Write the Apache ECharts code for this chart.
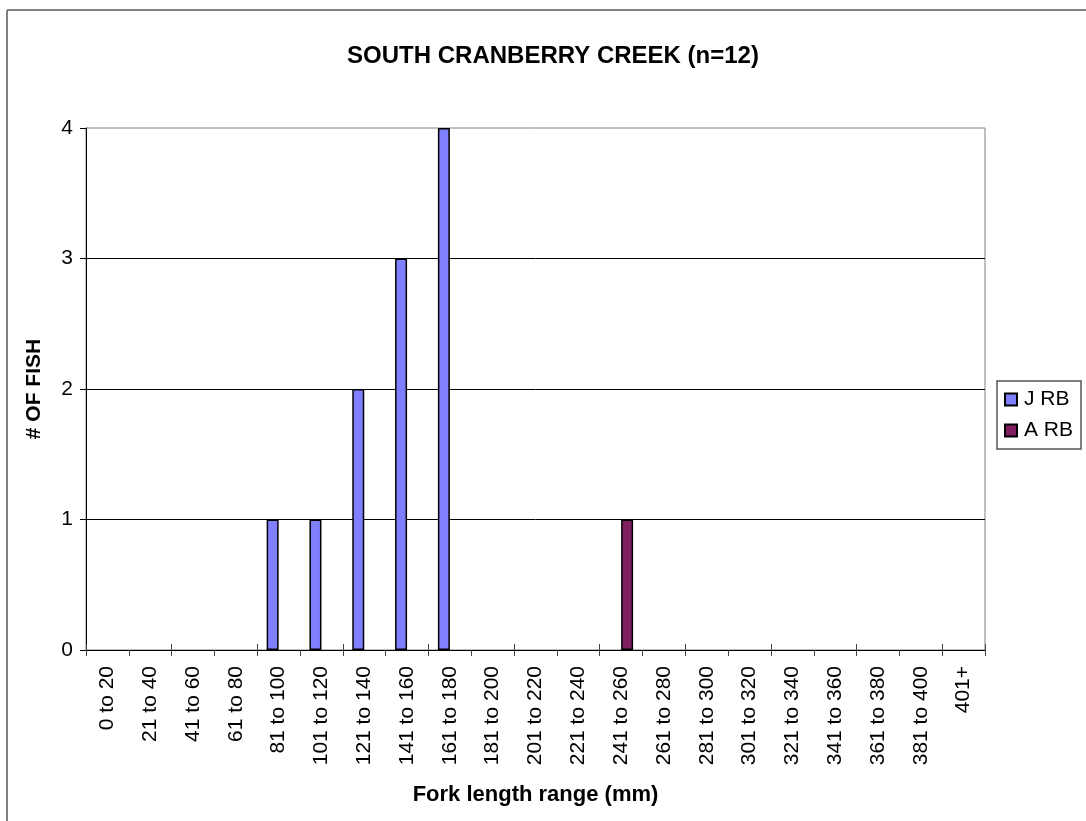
<!DOCTYPE html>
<html>
<head>
<meta charset="utf-8">
<script src="https://cdn.jsdelivr.net/npm/echarts@6/dist/echarts.min.js"></script>
<style>
  html, body { margin: 0; padding: 0; background: #ffffff; }
  #chart { width: 1086px; height: 821px; }
</style>
</head>
<body>
<div id="chart"></div>
<script>
// Fork length classes (mm)
const lengthRanges = [
  '0 to 20', '21 to 40', '41 to 60', '61 to 80', '81 to 100',
  '101 to 120', '121 to 140', '141 to 160', '161 to 180', '181 to 200',
  '201 to 220', '221 to 240', '241 to 260', '261 to 280', '281 to 300',
  '301 to 320', '321 to 340', '341 to 360', '361 to 380', '381 to 400', '401+'
];
// Fish counts per class
const juvenileRB = [0, 0, 0, 0, 1, 1, 2, 3, 4, 0, 0, 0, 0, 0, 0, 0, 0, 0, 0, 0, 0];
const adultRB    = [0, 0, 0, 0, 0, 0, 0, 0, 0, 0, 0, 0, 1, 0, 0, 0, 0, 0, 0, 0, 0];
const seriesNames = ['J RB', 'A RB'];
const yTicks = { min: 0, max: 4, interval: 1 };

const FONT = '"Liberation Sans", Arial, sans-serif';

// empty classes get no bar outline on the axis
const asBars = arr => arr.map(v => (v === 0 ? null : v));

const chart = echarts.init(document.getElementById('chart'), null, { renderer: 'canvas' });

chart.setOption({
  backgroundColor: '#ffffff',
  animation: false,
  title: {
    text: 'SOUTH CRANBERRY CREEK (n=12)',
    left: 553,
    top: 44,
    textAlign: 'center',
    padding: 0,
    textStyle: { fontFamily: FONT, fontSize: 24, fontWeight: 'bold', color: '#000' }
  },
  legend: {
    orient: 'vertical',
    left: 997,
    top: 381,
    padding: [8, 8, 8, 7],
    itemGap: 10,
    itemWidth: 12,
    itemHeight: 12,
    icon: 'rect',
    backgroundColor: '#fff',
    borderColor: '#555',
    borderWidth: 1.5,
    textStyle: { fontFamily: FONT, fontSize: 21, color: '#000', padding: [0, 0, 0, 2] },
    data: seriesNames
  },
  grid: {
    left: 86, top: 128, right: 101, bottom: 171,
    show: true, borderColor: '#808080', borderWidth: 1, backgroundColor: '#fff'
  },
  xAxis: [
    {
      type: 'category',
      data: lengthRanges,
      boundaryGap: true,
      name: 'Fork length range (mm)',
      nameLocation: 'middle',
      nameGap: 134,
      nameTextStyle: { fontFamily: FONT, fontSize: 22, fontWeight: 'bold', color: '#000' },
      axisLine: { lineStyle: { color: '#000', width: 1 } },
      axisTick: { show: true, alignWithLabel: false, length: 6, lineStyle: { color: '#444' } },
      axisLabel: {
        rotate: 90, interval: 0, margin: 16,
        fontFamily: FONT, fontSize: 21, color: '#000'
      },
      splitLine: { show: false }
    },
    {
      // inward half of the crossing tick marks
      type: 'category',
      data: lengthRanges,
      position: 'bottom',
      boundaryGap: true,
      axisLine: { show: false },
      axisTick: { show: true, inside: true, length: 6, lineStyle: { color: '#444' } },
      axisLabel: { show: false },
      splitLine: { show: false }
    }
  ],
  yAxis: {
    type: 'value',
    min: yTicks.min,
    max: yTicks.max,
    interval: yTicks.interval,
    name: '# OF FISH',
    nameLocation: 'middle',
    nameGap: 41,
    nameRotate: 90,
    nameTextStyle: { fontFamily: FONT, fontSize: 21, fontWeight: 'bold', color: '#000' },
    axisLine: { show: true, lineStyle: { color: '#000', width: 1 } },
    axisTick: { show: true, length: 6, lineStyle: { color: '#000' } },
    axisLabel: { margin: 13, fontFamily: FONT, fontSize: 21, color: '#000' },
    splitLine: { show: true, showMaxLine: false, lineStyle: { color: '#000', width: 1 } }
  },
  series: [
    {
      name: seriesNames[0],
      type: 'bar',
      data: asBars(juvenileRB),
      barWidth: 12,
      barGap: '0%',
      itemStyle: { color: '#8080ff', borderColor: '#000', borderWidth: 1.5 }
    },
    {
      name: seriesNames[1],
      type: 'bar',
      data: asBars(adultRB),
      barWidth: 12,
      barGap: '0%',
      itemStyle: { color: '#7f1f5f', borderColor: '#000', borderWidth: 1.5 }
    }
  ],
  graphic: [
    // chart frame: top and left edges
    { type: 'line', shape: { x1: 7, y1: 10, x2: 1086, y2: 10 }, style: { stroke: '#000', lineWidth: 1 }, z: 100 },
    { type: 'line', shape: { x1: 7, y1: 10, x2: 7, y2: 821 }, style: { stroke: '#808080', lineWidth: 2 }, z: 100 }
  ]
});
</script>
</body>
</html>
